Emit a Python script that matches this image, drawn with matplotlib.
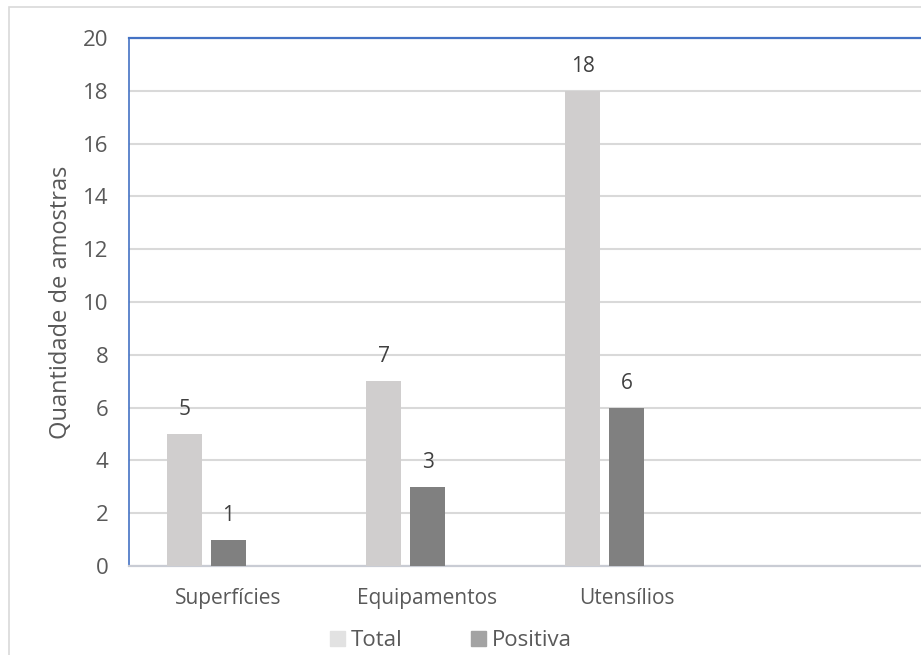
import matplotlib
matplotlib.use("Agg")
import matplotlib.pyplot as plt
from matplotlib.patches import Rectangle, Patch
import numpy as np

categories = ["Superfícies", "Equipamentos", "Utensílios", ""]
total = [5, 7, 18, None]
positiva = [1, 3, 6, None]
series_names = ["Total", "Positiva"]
yticks = list(range(0, 21, 2))

plt.rcParams['font.family'] = ['Open Sans', 'DejaVu Sans']

c_total = "#D0CECE"
c_pos = "#808080"
txt = "#595959"
grid = "#D9D9D9"
blue = "#4472C4"

fig = plt.figure(figsize=(9.21, 6.55), dpi=100)
fig.patches.append(Rectangle((9/921, -0.1), 1.2, 1 - 6.5/655 + 0.1, transform=fig.transFigure,
                             fill=False, edgecolor=grid, linewidth=1.2, zorder=0))

ax = fig.add_axes([129/921, 1 - 566/655, 796/921, 528/655])
x = np.arange(len(categories))
w = 0.176
step = 0.221

tv = [v if v is not None else 0 for v in total]
pv = [v if v is not None else 0 for v in positiva]
b1 = ax.bar(x - step, tv, width=w, color=c_total, zorder=3)
b2 = ax.bar(x, pv, width=w, color=c_pos, zorder=3)

for bars, vals in ((b1, total), (b2, positiva)):
    for r, v in zip(bars, vals):
        if v is None:
            continue
        ax.annotate(str(v), (r.get_x() + r.get_width() / 2, r.get_height()),
                    xytext=(0, 10), textcoords="offset points", ha="center", va="bottom",
                    fontsize=15, color="#404040")

ax.set_xlim(-0.5, len(categories) - 0.5)
ax.set_ylim(0, 20)
ax.set_yticks(yticks)
ax.set_xticks(x)
ax.set_xticklabels(categories)
ax.tick_params(axis="both", length=0, labelcolor=txt)
ax.tick_params(axis="y", pad=15, labelsize=16)
ax.tick_params(axis="x", pad=16, labelsize=15)
ax.yaxis.grid(True, color=grid, linewidth=1.5, zorder=0)
ax.set_axisbelow(True)

ax.spines["right"].set_visible(False)
ax.spines["top"].set_color(blue)
ax.spines["top"].set_linewidth(1.6)
ax.spines["left"].set_color(blue)
ax.spines["left"].set_linewidth(1.2)
ax.spines["bottom"].set_color("#C9CCD4")
ax.spines["bottom"].set_linewidth(1.6)

ax.set_ylabel("Quantidade de amostras", fontsize=17, color=txt, labelpad=7)

handles = [Patch(color="#E2E2E2"), Patch(color="#A3A3A3")]
fig.legend(handles, series_names, loc="center", bbox_to_anchor=(451/921, 1 - 641/655),
           ncol=2, frameon=False, fontsize=16, labelcolor=txt,
           handlelength=0.64, handleheight=0.64, handletextpad=0.27, columnspacing=3.1)

fig.savefig("out.png", dpi=100)
